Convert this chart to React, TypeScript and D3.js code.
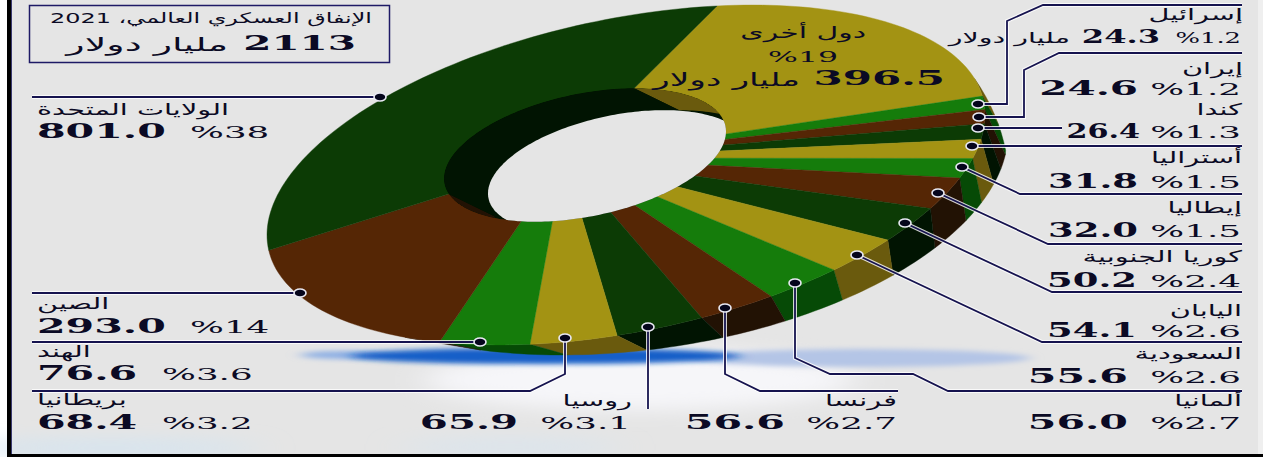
import React from "react";
import * as d3 from "d3";

// Slice order runs clockwise from the top of the ring.
const sliceNames = ["دول أخرى", "إسرائيل", "إيران", "كندا", "أستراليا", "إيطاليا", "كوريا الجنوبية", "اليابان", "السعودية", "ألمانيا", "فرنسا", "روسيا", "بريطانيا", "الهند", "الصين", "الولايات المتحدة"];
const sliceValues = [396.5, 24.3, 24.6, 26.4, 31.8, 32.0, 50.2, 54.1, 55.6, 56.0, 56.6, 65.9, 68.4, 76.6, 293.0, 801.0];
const slicePercents = ["%19", "%1.2", "%1.2", "%1.3", "%1.5", "%1.5", "%2.4", "%2.6", "%2.6", "%2.7", "%2.7", "%3.1", "%3.2", "%3.6", "%14", "%38"];
const sliceShades = ["gold", "green", "brown", "dark", "gold", "green", "brown", "dark", "gold", "green", "brown", "dark", "gold", "green", "brown", "dark"];

const faceColors: Record<string, string> = { gold: "#a39313", green: "#157c0b", brown: "#552605", dark: "#0c3b05" };
const sideColors: Record<string, string> = { gold: "#6a5a0d", green: "#064a06", brown: "#221204", dark: "#011402" };

const titleLine = "الإنفاق العسكري العالمي، 2021";
const totalAmount = "2113";
const unitText = "مليار دولار";

const W = 1263;
const H = 457;
const rad = Math.PI / 180;

type Pt = [number, number];
type Ell = { cx: number; cy: number; a: number; b: number; c: number };

// A tilted ellipse written as x = cx + a cos t, y = cy + b cos t + c sin t.
const at = (e: Ell, deg: number): Pt => {
  const t = deg * rad;
  return [e.cx + e.a * Math.cos(t), e.cy + e.b * Math.cos(t) + e.c * Math.sin(t)];
};
const tilted = (cx: number, cy: number, a: number): Ell => ({ cx, cy, a, b: -0.167 * a, c: 0.443 * a });

const outerTop = tilted(626, 175, 359);
const outerBase: Ell = { cx: 638, cy: 171, a: 370, b: -38, c: 180 };
const rim = tilted(585, 155, 141);
const throat = tilted(618, 171.7, 130);
const hub: Pt = [564, 158];
const wallShift: Pt = [45, 22];
const sideFrom = -14;
const sideTo = 128;

const linePath = d3.line<Pt>();
const samples = (from: number, to: number) => {
  const n = Math.max(2, Math.ceil(Math.abs(to - from) / 1.5));
  return d3.range(n + 1).map((i) => from + ((to - from) * i) / n);
};
const ellipsePath = (e: Ell) => linePath(samples(0, 360).map((t) => at(e, t))) + "Z";

// The far side of the ring is foreshortened, so slice sweep is remapped to the ellipse parameter.
const pie = d3.pie<number>().sort(null).value((d) => d).startAngle(0).endAngle(1)(sliceValues);
const groupEnds = [0, pie[0].endAngle, pie[13].endAngle, pie[14].endAngle, 1];
const toParam = d3.scaleLinear().domain(groupEnds).range([-75.3, -7, 121.3, 174.4, 284.7]);

// The lower edge of the visible side wall, fading into the face at both ends of the wall.
const depthFade = d3.scaleLinear().domain([sideFrom, -3, 121, sideTo]).range([0, 1, 1, 0]).clamp(true);
const sidePoint = (t: number): Pt => {
  const top = at(outerTop, t);
  const base = at(outerBase, 8.6 + 0.876 * t);
  const w = depthFade(t);
  return [top[0] + (base[0] - top[0]) * w, top[1] + (base[1] - top[1]) * w];
};

// Where the ray from the hub through an outer point meets the inner rim.
const rimParam = (t: number) => {
  const [px, py] = at(outerTop, t);
  const un = ([x, y]: Pt): Pt => {
    const c = (x - rim.cx) / rim.a;
    return [c, (y - rim.cy - rim.b * c) / rim.c];
  };
  const u0 = un(hub);
  const u1 = un([px, py]);
  const d: Pt = [u1[0] - u0[0], u1[1] - u0[1]];
  const A = d[0] * d[0] + d[1] * d[1];
  const B = 2 * (u0[0] * d[0] + u0[1] * d[1]);
  const C = u0[0] * u0[0] + u0[1] * u0[1] - 1;
  const k = (-B + Math.sqrt(B * B - 4 * A * C)) / (2 * A);
  return Math.atan2(u0[1] + k * d[1], u0[0] + k * d[0]) / rad;
};

const slices = pie.map((p, i) => {
  const t0 = toParam(p.startAngle);
  const t1 = toParam(p.endAngle);
  const face = linePath([hub, ...samples(t0, t1).map((t) => at(outerTop, t))]) + "Z";
  const s0 = Math.max(t0, sideFrom);
  const s1 = Math.min(t1, sideTo);
  const arc = s1 > s0 ? samples(s0, s1) : [];
  const side = arc.length ? linePath([...arc.map((t) => at(outerTop, t)), ...arc.slice().reverse().map(sidePoint)]) + "Z" : "";
  const r0 = rimParam(t0);
  let r1 = rimParam(t1);
  if (r1 < r0) r1 += 360;
  const rimArc = samples(r0, r1).map((t) => at(rim, t));
  const wall = linePath([...rimArc, ...rimArc.slice().reverse().map(([x, y]): Pt => [x + wallShift[0], y + wallShift[1]])]) + "Z";
  return { key: sliceNames[i], shade: sliceShades[i], face, side, wall };
});

const label = (i: number) => ({ name: sliceNames[i], amount: sliceValues[i].toFixed(1), pct: slicePercents[i] });

// Wide, stretched figures used across the graphic.
const T = ({ x, y, s = 21, sx = 1.96, bold, left, children }: { x: number; y: number; s?: number; sx?: number; bold?: boolean; left?: boolean; children: React.ReactNode }) => (
  <text
    transform={`translate(${x},${y}) scale(${sx},1)`}
    fontFamily="'DejaVu Serif','DejaVu Sans',serif"
    fontSize={s}
    fontWeight={bold ? 700 : 400}
    textAnchor={left ? "start" : "end"}
    fill="#0b0a24"
  >
    {children}
  </text>
);

// Arabic lines: the anchor is the line's right edge unless `left` is set.
const Name = ({ x, y, s = 16, sx = 1.8, left, children }: { x: number; y: number; s?: number; sx?: number; left?: boolean; children: React.ReactNode }) => (
  <text transform={`translate(${x},${y}) scale(${sx},1)`} fontFamily="'DejaVu Sans',sans-serif" fontSize={s} textAnchor={left ? "end" : "start"} direction="rtl" fill="#0b0a24">
    {children}
  </text>
);

const leaders: Pt[][] = [
  [[1242, 5], [1043, 5], [1007, 21], [1007, 104], [978, 104]],
  [[1242, 53], [1059, 53], [1024, 70], [1024, 117], [979, 117]],
  [[1062, 128], [978, 128]],
  [[1242, 146], [972, 146]],
  [[1242, 194], [1020, 194], [962, 167]],
  [[1242, 244], [1048, 244], [938, 193]],
  [[1242, 292], [1052, 292], [905, 223]],
  [[1242, 342], [1042, 342], [857, 255]],
  [[1242, 391], [948, 391], [913, 374], [830, 374], [795, 358], [795, 283]],
  [[898, 391], [760, 391], [725, 374], [725, 308]],
  [[648, 409], [648, 327]],
  [[32, 391], [530, 391], [565, 374], [565, 338]],
  [[32, 342], [480, 342]],
  [[32, 293], [300, 293]],
  [[32, 97], [380, 97]],
];

// Right column: slice index, name baseline, figure baseline, figure right edge, figure stretch.
const rightRows: [number, number, number, number, number][] = [
  [3, 115, 138, 1140, 1.44],
  [4, 163, 188, 1138, 1.76],
  [5, 213, 237, 1138, 1.76],
  [6, 262, 287, 1137, 1.76],
  [7, 316, 337, 1137, 1.76],
  [8, 359, 383, 1128, 1.96],
  [9, 406, 429, 1128, 1.96],
];

export default function App() {
  return (
    <svg width={W} height={H} style={{ position: "absolute", left: 0, top: 0, display: "block", background: "#fff" }}>
      <defs>
        <filter id="soft" x="-20%" y="-300%" width="140%" height="700%"><feGaussianBlur stdDeviation="7 2.5" /></filter>
        <filter id="mist" x="-30%" y="-150%" width="160%" height="400%"><feGaussianBlur stdDeviation="18 9" /></filter>
      </defs>

      <rect x={7} y={0} width={1251} height={455} fill="#e5e5e5" />
      <rect x={1258} y={0} width={5} height={455} fill="#efefef" />

      <ellipse cx={640} cy={380} rx={215} ry={30} fill="#f6f6f9" filter="url(#mist)" />
      <ellipse cx={860} cy={358} rx={170} ry={9} fill="#b4c5e6" filter="url(#soft)" />
      <ellipse cx={345} cy={355} rx={45} ry={4} fill="#8fb0e4" filter="url(#soft)" />
      <ellipse cx={545} cy={356} rx={195} ry={8} fill="#155ec8" filter="url(#soft)" />
      <ellipse cx={110} cy={448} rx={150} ry={7} fill="#d2e4f2" filter="url(#mist)" />
      <ellipse cx={510} cy={447} rx={110} ry={5} fill="#d4e4f2" filter="url(#mist)" />

      <rect x={7} y={0} width={4} height={457} fill="#000" />
      <rect x={11} y={0} width={1} height={454} fill="#3a3a70" />
      <rect x={7} y={454} width={1256} height={3} fill="#000" />

      <g>
        {slices.map((s) => s.side && <path key={s.key} d={s.side} fill={sideColors[s.shade]} stroke={sideColors[s.shade]} strokeWidth={0.4} />)}
        {slices.map((s) => <path key={s.key} d={s.face} fill={faceColors[s.shade]} stroke={faceColors[s.shade]} strokeWidth={0.4} />)}
      </g>
      <clipPath id="rimClip"><path d={ellipsePath(rim)} /></clipPath>
      <g clipPath="url(#rimClip)">
        <path d={ellipsePath(rim)} fill={sideColors.dark} />
        {slices.map((s) => <path key={s.key} d={s.wall} fill={sideColors[s.shade]} />)}
        <path d={ellipsePath(throat)} fill="#e5e5e5" />
      </g>

      <rect x={29.5} y={5.5} width={360} height={57} fill="none" stroke="#1e1a66" strokeWidth={1.5} />
      <Name x={372} y={23} s={14.5} sx={1.65}>{titleLine}</Name>
      <T x={356} y={50} s={21} sx={1.93} bold>{totalAmount}</T>
      <Name x={228} y={51} s={19} sx={2}>{unitText}</Name>

      {leaders.map((pts, i) => {
        const [dx, dy] = pts[pts.length - 1];
        return (
          <g key={i} fill="none" strokeLinejoin="miter">
            <path d={linePath(pts)!} stroke="#fff" strokeOpacity={0.8} strokeWidth={4} />
            <path d={linePath(pts)!} stroke="#16134f" strokeWidth={1.8} />
            <ellipse cx={dx} cy={dy} rx={6} ry={4} fill="#05051c" stroke="#e9e9f4" strokeWidth={1.6} />
          </g>
        );
      })}

      {/* other countries, printed on the slice */}
      <Name x={866} y={38} sx={1.87}>{label(0).name}</Name>
      <T x={838} y={62} s={15} sx={2.1}>{label(0).pct}</T>
      <T x={945} y={85} s={20} sx={2.1} bold>{label(0).amount}</T>
      <Name x={800} y={86} s={18} sx={1.92}>{unitText}</Name>

      {/* Israel and Iran sit above the ruled rows */}
      <Name x={1243} y={20}>{label(1).name}</Name>
      <T x={1241} y={43} s={15} sx={1.72}>{label(1).pct}</T>
      <T x={1160} y={43} s={19} sx={1.69} bold>{label(1).amount}</T>
      <Name x={1070} y={43} s={15} sx={1.9}>{unitText}</Name>
      <Name x={1243} y={74}>{label(2).name}</Name>
      <T x={1241} y={95} s={17} sx={2.1}>{label(2).pct}</T>
      <T x={1138} y={95} sx={1.93} bold>{label(2).amount}</T>

      {rightRows.map(([i, ny, fy, fx, fs]) => (
        <g key={i}>
          <Name x={1242} y={ny}>{label(i).name}</Name>
          <T x={1241} y={fy} s={17} sx={2.1}>{label(i).pct}</T>
          <T x={fx} y={fy} sx={fs} bold>{label(i).amount}</T>
        </g>
      ))}

      {/* Bottom row */}
      <Name x={897} y={406}>{label(10).name}</Name>
      <T x={897} y={429} s={17} sx={2.1}>{label(10).pct}</T>
      <T x={785} y={429} bold>{label(10).amount}</T>
      <Name x={632} y={406}>{label(11).name}</Name>
      <T x={631} y={429} s={17} sx={2.1}>{label(11).pct}</T>
      <T x={518} y={429} sx={1.92} bold>{label(11).amount}</T>

      {/* Left column */}
      <Name x={37} y={115} left>{label(15).name}</Name>
      <T x={37} y={138} bold left>{label(15).amount}</T>
      <T x={190} y={138} s={17} sx={2.1} left>{label(15).pct}</T>
      <Name x={37} y={309} left>{label(14).name}</Name>
      <T x={37} y={333} bold left>{label(14).amount}</T>
      <T x={190} y={333} s={17} sx={2.1} left>{label(14).pct}</T>
      <Name x={37} y={357} left>{label(13).name}</Name>
      <T x={37} y={380} bold left>{label(13).amount}</T>
      <T x={162} y={380} s={17} sx={2.1} left>{label(13).pct}</T>
      <Name x={37} y={405} left>{label(12).name}</Name>
      <T x={37} y={429} bold left>{label(12).amount}</T>
      <T x={162} y={429} s={17} sx={2.1} left>{label(12).pct}</T>
    </svg>
  );
}
